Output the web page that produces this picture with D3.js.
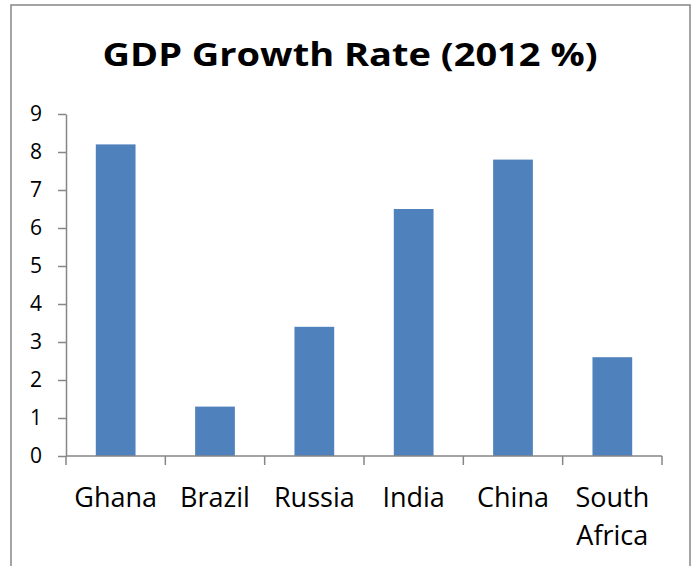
<!DOCTYPE html>
<html>
<head>
<meta charset="utf-8">
<script src="https://cdn.jsdelivr.net/npm/d3@7"></script>
<style>
  html, body { margin: 0; padding: 0; background: #fff; }
  svg text { font-family: "Open Sans", sans-serif; fill: #000; }
</style>
</head>
<body>
<svg id="chart" width="692" height="566"></svg>
<script>
const countries = ["Ghana", "Brazil", "Russia", "India", "China", "South Africa"];
const growth = [8.2, 1.3, 3.4, 6.5, 7.8, 2.6];
const yTicks = [0, 1, 2, 3, 4, 5, 6, 7, 8, 9];
const title = "GDP Growth Rate (2012 %)";

const svg = d3.select("#chart");
const axisColor = "#868686";
const barColor = "#4f81bd";

const x0 = 66, x1 = 662, yTop = 114, yBottom = 456;

// frame around the chart (bottom edge is cut off)
svg.append("rect")
  .attr("x", 11)
  .attr("y", 5)
  .attr("width", 679)
  .attr("height", 600)
  .attr("fill", "none")
  .attr("stroke", axisColor)
  .attr("stroke-width", 1.5);

// title is wider in the reference, stretch it to fit
svg.append("text")
  .attr("x", 350)
  .attr("y", 66)
  .attr("text-anchor", "middle")
  .attr("textLength", 495)
  .attr("lengthAdjust", "spacingAndGlyphs")
  .style("font-size", "33px")
  .style("font-weight", "bold")
  .text(title);

const x = d3.scaleBand()
  .domain(countries)
  .range([x0, x1])
  .paddingInner(0.6)
  .paddingOuter(0.3);

const y = d3.scaleLinear()
  .domain([0, 9])
  .range([yBottom, yTop]);

// y axis
const yAxis = svg.append("g")
  .attr("transform", `translate(${x0},0)`)
  .call(d3.axisLeft(y).tickValues(yTicks).tickSize(8).tickPadding(16).tickSizeOuter(0));
yAxis.select(".domain").attr("stroke", axisColor).attr("stroke-width", 1.5);
yAxis.selectAll(".tick line").attr("stroke", axisColor).attr("stroke-width", 1.5);
yAxis.selectAll(".tick text")
  .attr("fill", "#000")
  .style("font-size", "21px")
  .style("font-family", "'Open Sans', sans-serif");

// bars
svg.append("g")
  .selectAll("rect")
  .data(countries)
  .join("rect")
  .attr("x", d => x(d))
  .attr("y", (d, i) => y(growth[i]))
  .attr("width", x.bandwidth())
  .attr("height", (d, i) => y(0) - y(growth[i]))
  .attr("fill", barColor);

// x axis line and category dividers
const xAxis = svg.append("g").attr("transform", `translate(0,${yBottom})`);
xAxis.append("line")
  .attr("x1", x0)
  .attr("x2", x1)
  .attr("stroke", axisColor)
  .attr("stroke-width", 1.5);

const dividers = countries.map(c => x(c) - x.step() * x.paddingInner() / 2);
dividers.push(x1);
xAxis.selectAll("line.div")
  .data(dividers)
  .join("line")
  .attr("class", "div")
  .attr("x1", d => d)
  .attr("x2", d => d)
  .attr("y1", 0)
  .attr("y2", 9)
  .attr("stroke", axisColor)
  .attr("stroke-width", 1.5);

// category labels, South Africa wraps over two lines
const labels = xAxis.selectAll("text.cat")
  .data(countries)
  .join("text")
  .attr("class", "cat")
  .attr("x", d => x(d) + x.bandwidth() / 2)
  .attr("y", 51)
  .attr("text-anchor", "middle")
  .style("font-size", "27px");

labels.each(function(d) {
  const words = d.split(" ");
  const t = d3.select(this);
  words.forEach((w, i) => {
    t.append("tspan")
      .attr("x", x(d) + x.bandwidth() / 2)
      .attr("dy", i === 0 ? 0 : 38)
      .text(w);
  });
});
</script>
</body>
</html>
